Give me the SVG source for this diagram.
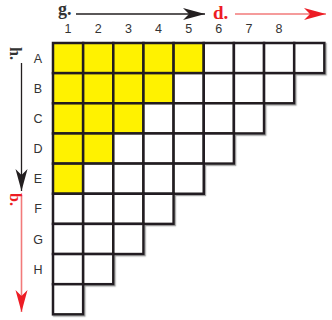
<svg xmlns="http://www.w3.org/2000/svg" xmlns:xlink="http://www.w3.org/1999/xlink" width="332" height="320" viewBox="0 0 332 320">
<style>
.c{fill:#ffffff;stroke:#231f20;stroke-width:2.5}
.y{fill:#fff200}
.lbl{font-family:"Liberation Sans",Arial,sans-serif;font-size:12.5px;fill:#333333;text-anchor:middle}
.ttl{font-family:"Liberation Serif","Times New Roman",serif;font-weight:bold}
.blk{stroke:#231f20;stroke-width:1.3;fill:none}
.red{stroke:#f27a7a;stroke-width:1.6;fill:none}
</style>
<defs>
<filter id="sh" x="-5%" y="-5%" width="110%" height="110%">
<feDropShadow dx="1.2" dy="1.2" stdDeviation="0.3" flood-color="#8c8c8c" flood-opacity="0.8"/>
</filter>
<marker id="ab" markerUnits="userSpaceOnUse" markerWidth="24" markerHeight="14" refX="22" refY="6" orient="auto" overflow="visible">
<path d="M0,0 L22,6 L0,12 L6,6 Z" fill="#231f20"/>
</marker>
<marker id="ar" markerUnits="userSpaceOnUse" markerWidth="24" markerHeight="14" refX="22" refY="6" orient="auto" overflow="visible">
<path d="M0,0 L22,6 L0,12 L6,6 Z" fill="#ed1c24"/>
</marker>
</defs>
<rect width="332" height="320" fill="#ffffff"/>

<g id="grid" filter="url(#sh)">
<g id="row-A">
<rect id="A1" class="c y" x="53" y="43" width="30.15" height="30.15"/>
<rect id="A2" class="c y" x="83.15" y="43" width="30.15" height="30.15"/>
<rect id="A3" class="c y" x="113.3" y="43" width="30.15" height="30.15"/>
<rect id="A4" class="c y" x="143.45" y="43" width="30.15" height="30.15"/>
<rect id="A5" class="c y" x="173.6" y="43" width="30.15" height="30.15"/>
<rect id="A6" class="c" x="203.75" y="43" width="30.15" height="30.15"/>
<rect id="A7" class="c" x="233.9" y="43" width="30.15" height="30.15"/>
<rect id="A8" class="c" x="264.05" y="43" width="30.15" height="30.15"/>
<rect id="A9" class="c" x="294.2" y="43" width="30.15" height="30.15"/>
</g>
<g id="row-B">
<rect id="B1" class="c y" x="53" y="73.15" width="30.15" height="30.15"/>
<rect id="B2" class="c y" x="83.15" y="73.15" width="30.15" height="30.15"/>
<rect id="B3" class="c y" x="113.3" y="73.15" width="30.15" height="30.15"/>
<rect id="B4" class="c y" x="143.45" y="73.15" width="30.15" height="30.15"/>
<rect id="B5" class="c" x="173.6" y="73.15" width="30.15" height="30.15"/>
<rect id="B6" class="c" x="203.75" y="73.15" width="30.15" height="30.15"/>
<rect id="B7" class="c" x="233.9" y="73.15" width="30.15" height="30.15"/>
<rect id="B8" class="c" x="264.05" y="73.15" width="30.15" height="30.15"/>
</g>
<g id="row-C">
<rect id="C1" class="c y" x="53" y="103.3" width="30.15" height="30.15"/>
<rect id="C2" class="c y" x="83.15" y="103.3" width="30.15" height="30.15"/>
<rect id="C3" class="c y" x="113.3" y="103.3" width="30.15" height="30.15"/>
<rect id="C4" class="c" x="143.45" y="103.3" width="30.15" height="30.15"/>
<rect id="C5" class="c" x="173.6" y="103.3" width="30.15" height="30.15"/>
<rect id="C6" class="c" x="203.75" y="103.3" width="30.15" height="30.15"/>
<rect id="C7" class="c" x="233.9" y="103.3" width="30.15" height="30.15"/>
</g>
<g id="row-D">
<rect id="D1" class="c y" x="53" y="133.45" width="30.15" height="30.15"/>
<rect id="D2" class="c y" x="83.15" y="133.45" width="30.15" height="30.15"/>
<rect id="D3" class="c" x="113.3" y="133.45" width="30.15" height="30.15"/>
<rect id="D4" class="c" x="143.45" y="133.45" width="30.15" height="30.15"/>
<rect id="D5" class="c" x="173.6" y="133.45" width="30.15" height="30.15"/>
<rect id="D6" class="c" x="203.75" y="133.45" width="30.15" height="30.15"/>
</g>
<g id="row-E">
<rect id="E1" class="c y" x="53" y="163.6" width="30.15" height="30.15"/>
<rect id="E2" class="c" x="83.15" y="163.6" width="30.15" height="30.15"/>
<rect id="E3" class="c" x="113.3" y="163.6" width="30.15" height="30.15"/>
<rect id="E4" class="c" x="143.45" y="163.6" width="30.15" height="30.15"/>
<rect id="E5" class="c" x="173.6" y="163.6" width="30.15" height="30.15"/>
</g>
<g id="row-F">
<rect id="F1" class="c" x="53" y="193.75" width="30.15" height="30.15"/>
<rect id="F2" class="c" x="83.15" y="193.75" width="30.15" height="30.15"/>
<rect id="F3" class="c" x="113.3" y="193.75" width="30.15" height="30.15"/>
<rect id="F4" class="c" x="143.45" y="193.75" width="30.15" height="30.15"/>
</g>
<g id="row-G">
<rect id="G1" class="c" x="53" y="223.9" width="30.15" height="30.15"/>
<rect id="G2" class="c" x="83.15" y="223.9" width="30.15" height="30.15"/>
<rect id="G3" class="c" x="113.3" y="223.9" width="30.15" height="30.15"/>
</g>
<g id="row-H">
<rect id="H1" class="c" x="53" y="254.05" width="30.15" height="30.15"/>
<rect id="H2" class="c" x="83.15" y="254.05" width="30.15" height="30.15"/>
</g>
<g id="row-I">
<rect id="I1" class="c" x="53" y="284.2" width="30.15" height="30.15"/>
</g>
</g>

<g id="col-labels">
<text class="lbl" x="68.1" y="33">1</text>
<text class="lbl" x="98.2" y="33">2</text>
<text class="lbl" x="128.4" y="33">3</text>
<text class="lbl" x="158.5" y="33">4</text>
<text class="lbl" x="188.7" y="33">5</text>
<text class="lbl" x="218.8" y="33">6</text>
<text class="lbl" x="249" y="33">7</text>
<text class="lbl" x="279.1" y="33">8</text>
</g>
<g id="row-labels">
<text class="lbl" x="38" y="62.6">A</text>
<text class="lbl" x="38" y="92.7">B</text>
<text class="lbl" x="38" y="122.9">C</text>
<text class="lbl" x="38" y="153">D</text>
<text class="lbl" x="38" y="183.2">E</text>
<text class="lbl" x="38" y="213.3">F</text>
<text class="lbl" x="38" y="243.5">G</text>
<text class="lbl" x="38" y="273.6">H</text>
</g>

<g id="connectors">
<line class="blk" x1="76" y1="14" x2="205" y2="14" marker-end="url(#ab)"/>
<line class="red" x1="235" y1="14" x2="326" y2="14" marker-end="url(#ar)"/>
<line class="blk" x1="21.5" y1="63" x2="21.5" y2="191" marker-end="url(#ab)"/>
<line class="red" x1="21.5" y1="195" x2="21.5" y2="312" marker-end="url(#ar)"/>
</g>

<g id="axis-labels">
<text class="ttl" x="58" y="14.5" font-size="18" fill="#333333">g.</text>
<text class="ttl" x="213" y="18.5" font-size="19" fill="#ed1c24">d.</text>
<text class="ttl" font-size="16" fill="#333333" transform="translate(9.5,47) rotate(90)">h.</text>
<text class="ttl" font-size="16" fill="#ed1c24" transform="translate(9.5,193) rotate(90)">b.</text>
</g>
</svg>
